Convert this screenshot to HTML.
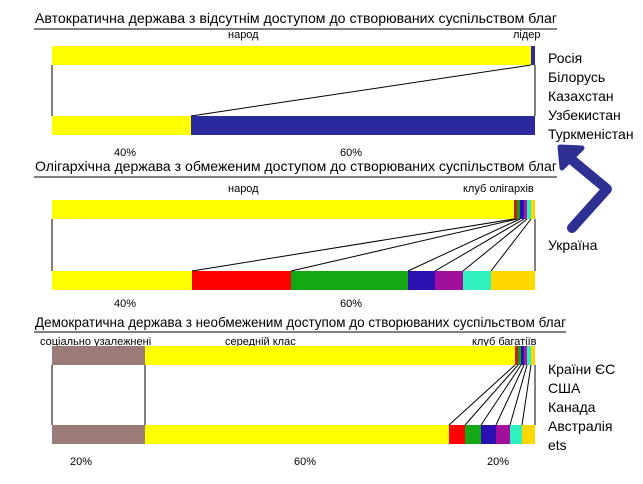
<!DOCTYPE html><html><head><meta charset="utf-8"><style>body{margin:0;background:#fff}svg{display:block}text{font-family:"Liberation Sans",sans-serif}</style></head><body>
<svg width="643" height="484" viewBox="0 0 643 484" xmlns="http://www.w3.org/2000/svg">
<g font-size="14" fill="#000">
<text x="35" y="23" textLength="522" lengthAdjust="spacingAndGlyphs">Автократична держава з відсутнім доступом до створюваних суспільством благ</text>
<text x="35" y="171" textLength="522" lengthAdjust="spacingAndGlyphs">Олігархічна держава з обмеженим доступом до створюваних суспільством благ</text>
<text x="35" y="327" textLength="531" lengthAdjust="spacingAndGlyphs">Демократична держава з необмеженим доступом до створюваних суспільством благ</text>
</g>
<g stroke="#000" stroke-width="1"><line x1="34" y1="29" x2="557" y2="29"/><line x1="34" y1="177" x2="557" y2="177"/><line x1="34" y1="332" x2="566" y2="332"/></g>
<g font-size="11"><text x="228" y="38">народ</text><text x="513" y="38">лідер</text>
<text x="228" y="192">народ</text><text x="463" y="192">клуб олігархів</text>
<text x="40" y="345">соціально узалежнені</text><text x="225" y="345">середній клас</text><text x="472" y="345">клуб багатіїв</text>
<text x="114" y="156">40%</text><text x="340" y="156">60%</text><text x="114" y="307">40%</text><text x="340" y="307">60%</text>
<text x="70" y="465">20%</text><text x="294" y="465">60%</text><text x="487" y="465">20%</text></g>
<g font-size="14"><text x="548" y="63">Росія</text><text x="548" y="82">Білорусь</text><text x="548" y="101">Казахстан</text><text x="548" y="120">Узбекистан</text><text x="548" y="139">Туркменістан</text>
<text x="548" y="250">Україна</text>
<text x="548" y="374">Країни ЄС</text><text x="548" y="393">США</text><text x="548" y="412">Канада</text><text x="548" y="431">Австралія</text><text x="548" y="450">ets</text></g>
<rect x="52" y="46" width="483" height="19" fill="#ffff00"/><rect x="531" y="46" width="4" height="19" fill="#2a2a9e"/>
<rect x="52" y="116" width="139" height="19" fill="#ffff00"/><rect x="191" y="116" width="344" height="19" fill="#2a2a9e"/>
<g stroke="#000"><line x1="52" y1="65" x2="52" y2="116"/><line x1="535" y1="65" x2="535" y2="116"/><line x1="531" y1="65" x2="191" y2="116"/></g>
<rect x="52" y="200" width="483" height="19" fill="#ffff00"/>
<rect x="514" y="200" width="3" height="19" fill="#c02020"/><rect x="517" y="200" width="3" height="19" fill="#1a9a1a"/><rect x="520" y="200" width="4" height="19" fill="#2a10b0"/><rect x="524" y="200" width="3" height="19" fill="#a020a0"/><rect x="527" y="200" width="4" height="19" fill="#30f0c0"/><rect x="531" y="200" width="4" height="19" fill="#ffd700"/>
<rect x="52" y="271" width="140" height="19" fill="#ffff00"/><rect x="192" y="271" width="99" height="19" fill="#ff0000"/><rect x="291" y="271" width="117" height="19" fill="#14a814"/><rect x="408" y="271" width="27" height="19" fill="#2a10b0"/><rect x="435" y="271" width="28" height="19" fill="#a0109c"/><rect x="463" y="271" width="28" height="19" fill="#30f0c0"/><rect x="491" y="271" width="44" height="19" fill="#ffd700"/>
<g stroke="#000"><line x1="52" y1="219" x2="52" y2="271"/><line x1="535" y1="219" x2="535" y2="271"/><line x1="514" y1="219" x2="192" y2="271"/><line x1="517" y1="219" x2="291" y2="271"/><line x1="520" y1="219" x2="408" y2="271"/><line x1="524" y1="219" x2="435" y2="271"/><line x1="527" y1="219" x2="463" y2="271"/><line x1="531" y1="219" x2="491" y2="271"/></g>
<rect x="52" y="346" width="93" height="19" fill="#9a7b76"/><rect x="145" y="346" width="370" height="19" fill="#ffff00"/>
<rect x="515" y="346" width="3" height="19" fill="#c02020"/><rect x="518" y="346" width="3" height="19" fill="#1a9a1a"/><rect x="521" y="346" width="3" height="19" fill="#2a10b0"/><rect x="524" y="346" width="3" height="19" fill="#a020a0"/><rect x="527" y="346" width="4" height="19" fill="#30f0c0"/><rect x="531" y="346" width="4" height="19" fill="#ffd700"/>
<rect x="52" y="425" width="93" height="19" fill="#9a7b76"/><rect x="145" y="425" width="304" height="19" fill="#ffff00"/><rect x="449" y="425" width="16" height="19" fill="#ff0000"/><rect x="465" y="425" width="16" height="19" fill="#14a814"/><rect x="481" y="425" width="15" height="19" fill="#2a10b0"/><rect x="496" y="425" width="14" height="19" fill="#a0109c"/><rect x="510" y="425" width="12" height="19" fill="#30f0c0"/><rect x="522" y="425" width="13" height="19" fill="#ffd700"/>
<g stroke="#000"><line x1="52" y1="365" x2="52" y2="425"/><line x1="145" y1="365" x2="145" y2="425"/><line x1="535" y1="365" x2="535" y2="425"/><line x1="515" y1="365" x2="449" y2="425"/><line x1="518" y1="365" x2="465" y2="425"/><line x1="521" y1="365" x2="481" y2="425"/><line x1="524" y1="365" x2="496" y2="425"/><line x1="527" y1="365" x2="510" y2="425"/><line x1="531" y1="365" x2="522" y2="425"/></g>
<polyline points="572,160 607,189 572,228" fill="none" stroke="#2e3192" stroke-width="10" stroke-linejoin="round" stroke-linecap="round"/>
<polygon points="560,147 582,148 562,168" fill="#2e3192" stroke="#2e3192" stroke-width="5" stroke-linejoin="round"/>
</svg></body></html>
